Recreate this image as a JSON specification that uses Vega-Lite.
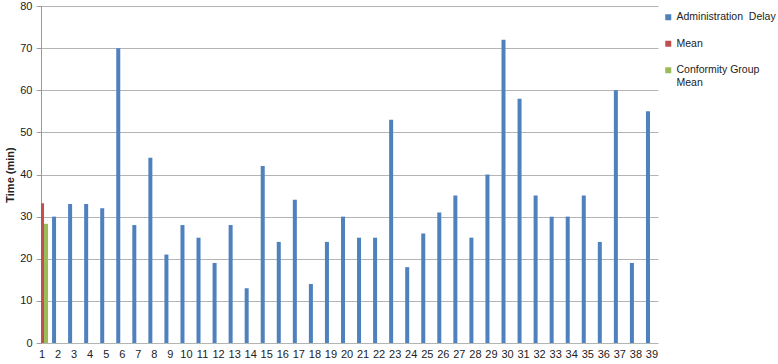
{
  "$schema": "https://vega.github.io/schema/vega-lite/v6.json",
  "width": 611,
  "height": 337,
  "autosize": {"type": "none"},
  "padding": {"left": 41, "top": 6, "right": 126, "bottom": 21},
  "background": "white",
  "config": {"view": {"stroke": null}, "font": "Liberation Sans"},
  "data": {
    "values": [
      {"case": 1, "series": "Mean", "value": 33.2},
      {"case": 1, "series": "Conformity Group Mean", "value": 28.3},
      {"case": 2, "series": "Administration  Delay", "value": 30},
      {"case": 3, "series": "Administration  Delay", "value": 33},
      {"case": 4, "series": "Administration  Delay", "value": 33},
      {"case": 5, "series": "Administration  Delay", "value": 32},
      {"case": 6, "series": "Administration  Delay", "value": 70},
      {"case": 7, "series": "Administration  Delay", "value": 28},
      {"case": 8, "series": "Administration  Delay", "value": 44},
      {"case": 9, "series": "Administration  Delay", "value": 21},
      {"case": 10, "series": "Administration  Delay", "value": 28},
      {"case": 11, "series": "Administration  Delay", "value": 25},
      {"case": 12, "series": "Administration  Delay", "value": 19},
      {"case": 13, "series": "Administration  Delay", "value": 28},
      {"case": 14, "series": "Administration  Delay", "value": 13},
      {"case": 15, "series": "Administration  Delay", "value": 42},
      {"case": 16, "series": "Administration  Delay", "value": 24},
      {"case": 17, "series": "Administration  Delay", "value": 34},
      {"case": 18, "series": "Administration  Delay", "value": 14},
      {"case": 19, "series": "Administration  Delay", "value": 24},
      {"case": 20, "series": "Administration  Delay", "value": 30},
      {"case": 21, "series": "Administration  Delay", "value": 25},
      {"case": 22, "series": "Administration  Delay", "value": 25},
      {"case": 23, "series": "Administration  Delay", "value": 53},
      {"case": 24, "series": "Administration  Delay", "value": 18},
      {"case": 25, "series": "Administration  Delay", "value": 26},
      {"case": 26, "series": "Administration  Delay", "value": 31},
      {"case": 27, "series": "Administration  Delay", "value": 35},
      {"case": 28, "series": "Administration  Delay", "value": 25},
      {"case": 29, "series": "Administration  Delay", "value": 40},
      {"case": 30, "series": "Administration  Delay", "value": 72},
      {"case": 31, "series": "Administration  Delay", "value": 58},
      {"case": 32, "series": "Administration  Delay", "value": 35},
      {"case": 33, "series": "Administration  Delay", "value": 30},
      {"case": 34, "series": "Administration  Delay", "value": 30},
      {"case": 35, "series": "Administration  Delay", "value": 35},
      {"case": 36, "series": "Administration  Delay", "value": 24},
      {"case": 37, "series": "Administration  Delay", "value": 60},
      {"case": 38, "series": "Administration  Delay", "value": 19},
      {"case": 39, "series": "Administration  Delay", "value": 55}
    ]
  },
  "mark": {"type": "bar", "clip": true},
  "encoding": {
    "x": {
      "field": "case",
      "type": "ordinal",
      "scale": {"range": [-5, 617], "paddingInner": 0.25, "paddingOuter": 0},
      "axis": {
        "title": null,
        "labelAngle": 0,
        "domain": false,
        "ticks": false,
        "labelPadding": 5,
        "labelFontSize": 11,
        "labelColor": "#222222",
        "labelOverlap": false
      }
    },
    "xOffset": {
      "field": "series",
      "type": "nominal",
      "sort": ["Administration  Delay", "Mean", "Conformity Group Mean"],
      "scale": {"paddingInner": 0, "paddingOuter": 0}
    },
    "y": {
      "field": "value",
      "type": "quantitative",
      "scale": {"domain": [0, 80], "nice": false},
      "axis": {
        "title": "Time (min)",
        "titleFontSize": 11,
        "titleFontWeight": "bold",
        "titleColor": "#222222",
        "titlePadding": 4,
        "values": [0, 10, 20, 30, 40, 50, 60, 70, 80],
        "grid": true,
        "gridColor": "#b4b4b4",
        "gridOpacity": 1,
        "domainColor": "#999999",
        "tickColor": "#999999",
        "tickSize": 4,
        "labelPadding": 5,
        "labelFontSize": 11,
        "labelColor": "#222222"
      }
    },
    "color": {
      "field": "series",
      "type": "nominal",
      "scale": {
        "domain": ["Administration  Delay", "Mean", "Conformity Group Mean"],
        "range": ["#4f81bd", "#c0504d", "#9bbb59"]
      },
      "legend": {
        "title": null,
        "orient": "none",
        "legendX": 622,
        "legendY": 6,
        "padding": 0,
        "symbolType": "square",
        "symbolSize": 36,
        "symbolStrokeWidth": 0,
        "labelFontSize": 10.5,
        "labelColor": "#222222",
        "labelLimit": 200,
        "labelOffset": 3,
        "rowPadding": 15.5,
        "labelExpr": "datum.label == 'Conformity Group Mean' ? ['Conformity Group', 'Mean'] : replace(datum.label, '  ', ' \u00a0')"
      }
    }
  }
}
